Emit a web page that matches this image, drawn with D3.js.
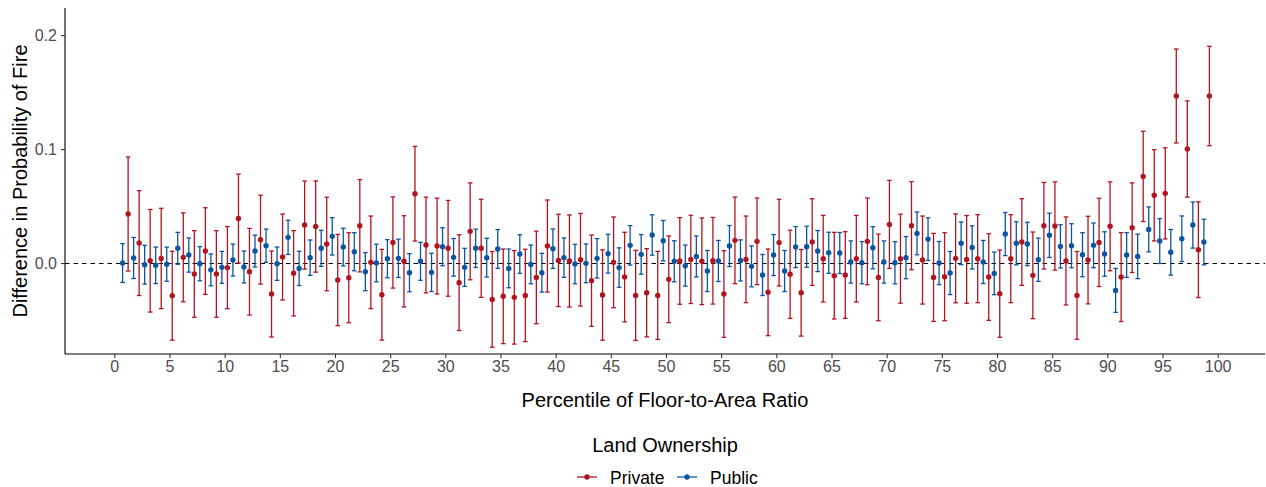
<!DOCTYPE html>
<html>
<head>
<meta charset="utf-8">
<script src="https://cdn.jsdelivr.net/npm/d3@7"></script>
<style>
  html, body { margin: 0; padding: 0; background: #ffffff; }
  svg { display: block; font-family: "Liberation Sans", Arial, sans-serif; }
</style>
</head>
<body>
<svg id="chart" width="1266" height="487"></svg>
<script>
// Percentile bins of floor-to-area ratio
const percentiles = d3.range(1, 100);

// Estimated difference in fire probability, public land
const publicEst = [
  0.0000, 0.0044, -0.0015, -0.0020, -0.0010, 0.0129, 0.0070, -0.0006, -0.0060, -0.0038,
  0.0026, -0.0035, 0.0105, 0.0152, -0.0006, 0.0225, -0.0047, 0.0047, 0.0129, 0.0234,
  0.0140, 0.0099, -0.0076, 0.0000, 0.0038, 0.0041, -0.0085, 0.0015, -0.0082, 0.0143,
  0.0050, -0.0038, 0.0129, 0.0047, 0.0123, -0.0047, 0.0079, -0.0012, -0.0085, 0.0126,
  0.0047, -0.0009, -0.0003, 0.0041, 0.0082, -0.0040, 0.0155, 0.0076, 0.0246, 0.0196,
  0.0015, -0.0023, 0.0058, -0.0070, 0.0018, 0.0149, 0.0023, -0.0029, -0.0105, 0.0070,
  -0.0070, 0.0140, 0.0143, 0.0105, 0.0090, 0.0088, 0.0009, 0.0003, 0.0134, 0.0009,
  0.0003, 0.0047, 0.0260, 0.0210, 0.0000, -0.0088, 0.0173, 0.0137, 0.0009, -0.0091,
  0.0254, 0.0173, 0.0167, 0.0029, 0.0243, 0.0146, 0.0152, 0.0073, 0.0155, 0.0079,
  -0.0240, 0.0070, 0.0058, 0.0295, 0.0193, 0.0094, 0.0213, 0.0333, 0.0184
];

// Half-width of the 95% interval, public land
const publicCI = [
  0.0170, 0.0180, 0.0170, 0.0160, 0.0150, 0.0140, 0.0150, 0.0150, 0.0140, 0.0140,
  0.0140, 0.0140, 0.0140, 0.0146, 0.0146, 0.0150, 0.0150, 0.0155, 0.0158, 0.0164,
  0.0165, 0.0167, 0.0167, 0.0165, 0.0167, 0.0168, 0.0167, 0.0167, 0.0168, 0.0167,
  0.0165, 0.0167, 0.0168, 0.0170, 0.0170, 0.0170, 0.0170, 0.0170, 0.0170, 0.0173,
  0.0173, 0.0173, 0.0170, 0.0173, 0.0170, 0.0173, 0.0173, 0.0174, 0.0177, 0.0177,
  0.0180, 0.0180, 0.0180, 0.0180, 0.0180, 0.0180, 0.0180, 0.0180, 0.0180, 0.0180,
  0.0180, 0.0180, 0.0180, 0.0180, 0.0180, 0.0180, 0.0185, 0.0185, 0.0185, 0.0185,
  0.0185, 0.0185, 0.0188, 0.0187, 0.0189, 0.0189, 0.0187, 0.0189, 0.0189, 0.0187,
  0.0189, 0.0189, 0.0190, 0.0190, 0.0194, 0.0190, 0.0193, 0.0193, 0.0196, 0.0195,
  0.0193, 0.0196, 0.0195, 0.0197, 0.0197, 0.0200, 0.0200, 0.0202, 0.0200
];

// Estimated difference in fire probability, private land
const privateEst = [
  0.0430, 0.0175, 0.0020, 0.0040, -0.0287, 0.0050, -0.0096, 0.0105, -0.0096, -0.0040,
  0.0390, -0.0076, 0.0205, -0.0272, 0.0053, -0.0090, 0.0333, 0.0320, 0.0167, -0.0149,
  -0.0129, 0.0327, 0.0006, -0.0278, 0.0180, 0.0015, 0.0608, 0.0158, 0.0149, 0.0129,
  -0.0172, 0.0278, 0.0129, -0.0319, -0.0292, -0.0301, -0.0284, -0.0126, 0.0149, 0.0023,
  0.0018, 0.0029, -0.0155, -0.0281, 0.0006, -0.0123, -0.0284, -0.0261, -0.0284, -0.0143,
  0.0018, 0.0032, 0.0015, 0.0020, -0.0272, 0.0199, 0.0032, 0.0190, -0.0257, 0.0179,
  -0.0099, -0.0261, 0.0184, 0.0038, -0.0111, -0.0105, 0.0038, 0.0190, -0.0126, 0.0339,
  0.0038, 0.0327, 0.0026, -0.0126, -0.0120, 0.0041, 0.0032, 0.0038, -0.0123, -0.0269,
  0.0038, 0.0184, -0.0108, 0.0327, 0.0325, 0.0018, -0.0284, 0.0026, 0.0181, 0.0322,
  -0.0123, 0.0310, 0.0760, 0.0594, 0.0611, 0.1465, 0.1000, 0.0117, 0.1465
];

// Half-width of the 95% interval, private land
const privateCI = [
  0.0500, 0.0460, 0.0450, 0.0440, 0.0390, 0.0390, 0.0380, 0.0380, 0.0380, 0.0360,
  0.0390, 0.0380, 0.0390, 0.0377, 0.0377, 0.0374, 0.0386, 0.0400, 0.0410, 0.0400,
  0.0395, 0.0405, 0.0406, 0.0398, 0.0400, 0.0400, 0.0415, 0.0420, 0.0420, 0.0420,
  0.0420, 0.0425, 0.0430, 0.0420, 0.0415, 0.0410, 0.0405, 0.0406, 0.0404, 0.0405,
  0.0404, 0.0406, 0.0400, 0.0396, 0.0398, 0.0393, 0.0395, 0.0387, 0.0386, 0.0380,
  0.0380, 0.0387, 0.0380, 0.0380, 0.0380, 0.0380, 0.0380, 0.0380, 0.0380, 0.0380,
  0.0387, 0.0380, 0.0380, 0.0380, 0.0380, 0.0380, 0.0380, 0.0380, 0.0380, 0.0386,
  0.0390, 0.0386, 0.0386, 0.0386, 0.0386, 0.0390, 0.0385, 0.0386, 0.0380, 0.0383,
  0.0386, 0.0380, 0.0380, 0.0380, 0.0387, 0.0386, 0.0385, 0.0384, 0.0387, 0.0390,
  0.0390, 0.0393, 0.0396, 0.0400, 0.0400, 0.0412, 0.0422, 0.0420, 0.0436
];

const groups = ["Private", "Public"];
const xTicks = d3.range(0, 101, 5);
const yTicks = [0.0, 0.1, 0.2];

const colors = { Private: "#B2151F", Public: "#0D55A2" };
const dodge = { Private: 0.25, Public: -0.25 };

const svg = d3.select("#chart");
const panel = { left: 65, right: 1265, top: 8, bottom: 354 };

const x = d3.scaleLinear().domain([-4.47, 104.29]).range([panel.left, panel.right]);
const y = d3.scaleLinear().domain([-0.0798, 0.2237]).range([panel.bottom, panel.top]);

const rows = [];
percentiles.forEach((p, i) => {
  rows.push({ group: "Public", p, est: publicEst[i], ci: publicCI[i] });
  rows.push({ group: "Private", p, est: privateEst[i], ci: privateCI[i] });
});

// Zero reference line (offset half a pixel for a crisp stroke)
svg.append("line")
  .attr("x1", panel.left).attr("x2", panel.right)
  .attr("y1", Math.round(y(0)) + 0.5).attr("y2", Math.round(y(0)) + 0.5)
  .attr("stroke", "#000").attr("stroke-width", 1.1)
  .attr("stroke-dasharray", "4.5,4");

// Error bars and point estimates
const capHalf = 2.3;
const marks = svg.append("g");
rows.forEach(d => {
  const cx = x(d.p + dodge[d.group]);
  const g = marks.append("g").attr("stroke", colors[d.group]).attr("stroke-width", 1.3);
  g.append("line").attr("x1", cx).attr("x2", cx)
    .attr("y1", y(d.est - d.ci)).attr("y2", y(d.est + d.ci));
  g.append("line").attr("x1", cx - capHalf).attr("x2", cx + capHalf)
    .attr("y1", y(d.est + d.ci)).attr("y2", y(d.est + d.ci));
  g.append("line").attr("x1", cx - capHalf).attr("x2", cx + capHalf)
    .attr("y1", y(d.est - d.ci)).attr("y2", y(d.est - d.ci));
});
marks.selectAll("circle").data(rows).join("circle")
  .attr("cx", d => x(d.p + dodge[d.group]))
  .attr("cy", d => y(d.est))
  .attr("r", 2.7)
  .attr("fill", d => colors[d.group]);

// Axes
const xAxis = svg.append("g")
  .attr("transform", `translate(0,${panel.bottom})`)
  .call(d3.axisBottom(x).tickValues(xTicks).tickFormat(d3.format("d")).tickSize(4).tickSizeOuter(0).tickPadding(3));
const yAxis = svg.append("g")
  .attr("transform", `translate(${panel.left},0)`)
  .call(d3.axisLeft(y).tickValues(yTicks).tickFormat(d3.format(".1f")).tickSize(4).tickSizeOuter(0).tickPadding(4));

[xAxis, yAxis].forEach(a => {
  a.select(".domain").attr("stroke", "#000").attr("stroke-width", 1.1);
  a.selectAll(".tick line").attr("stroke", "#333").attr("stroke-width", 1.1);
  a.selectAll(".tick text").attr("fill", "#4D4D4D").attr("font-size", 16)
    .attr("font-family", "Liberation Sans, Arial, sans-serif");
});
yAxis.select(".domain").attr("d", `M0,${panel.top}V${panel.bottom}`);
xAxis.select(".domain").attr("d", `M${panel.left},0H${panel.right}`);

// Axis titles
svg.append("text")
  .attr("x", (panel.left + panel.right) / 2).attr("y", 407)
  .attr("text-anchor", "middle").attr("font-size", 20).attr("fill", "#000")
  .text("Percentile of Floor-to-Area Ratio");
svg.append("text")
  .attr("transform", `translate(27,${(panel.top + panel.bottom) / 2}) rotate(-90)`)
  .attr("text-anchor", "middle").attr("font-size", 20).attr("fill", "#000")
  .text("Difference in Probability of Fire");

// Legend
svg.append("text")
  .attr("x", 665).attr("y", 452)
  .attr("text-anchor", "middle").attr("font-size", 20).attr("fill", "#000")
  .text("Land Ownership");

const legendItems = [
  { group: "Private", x0: 577 },
  { group: "Public", x0: 677 }
];
legendItems.forEach(item => {
  const g = svg.append("g").attr("transform", `translate(${item.x0},477)`);
  g.append("line").attr("x1", 0).attr("x2", 20).attr("y1", 0).attr("y2", 0)
    .attr("stroke", colors[item.group]).attr("stroke-width", 1.3);
  g.append("circle").attr("cx", 10).attr("cy", 0).attr("r", 2.7).attr("fill", colors[item.group]);
  g.append("text").attr("x", 33).attr("y", 6.5)
    .attr("font-size", 17.5).attr("fill", "#000").text(item.group);
});
</script>
</body>
</html>
